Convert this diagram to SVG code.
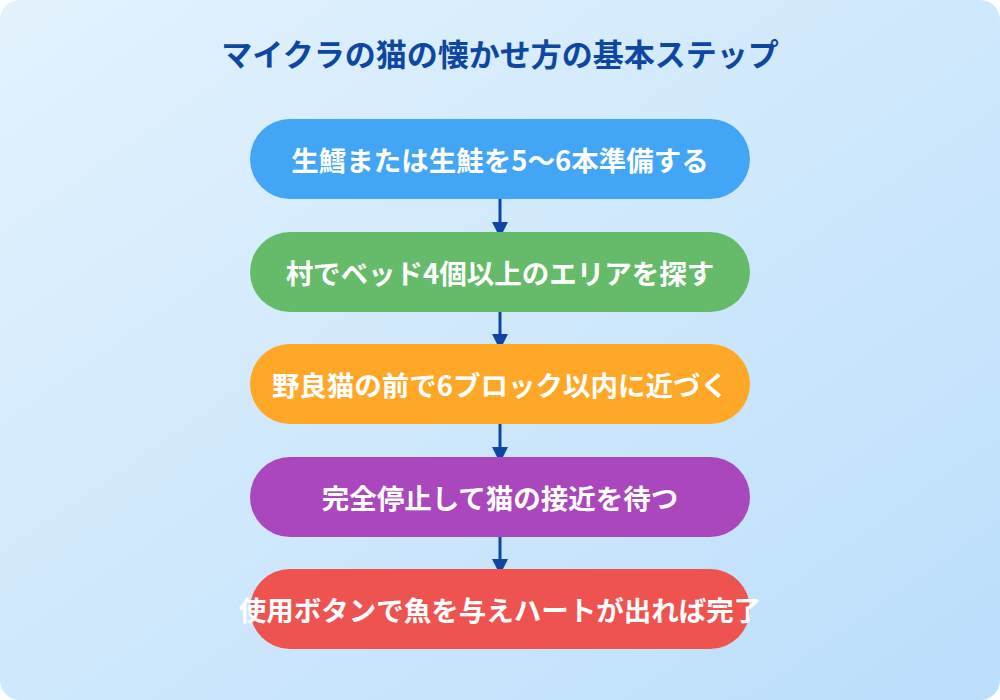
<svg xmlns="http://www.w3.org/2000/svg" width="1000" height="700" viewBox="0 0 1000 700">
<defs>
<linearGradient id="bg" x1="0" y1="0" x2="1" y2="1"><stop offset="0" stop-color="#e3f2fd"/><stop offset="1" stop-color="#bbdefb"/></linearGradient>
<marker id="ah" markerWidth="10" markerHeight="16" refX="10" refY="8" orient="auto" markerUnits="userSpaceOnUse"><path d="M0,0 L10,5 L10,11 L0,16 z" fill="#0d47a1"/></marker>
<style>
.t{font-family:"Noto Sans CJK JP","Noto Sans",sans-serif;font-weight:bold;fill:#fff;font-size:27.5px;text-anchor:middle;dominant-baseline:central}
.c{stroke:#0d47a1;stroke-width:3;fill:none;marker-end:url(#ah)}
</style>
</defs>
<rect x="0" y="0" width="1000" height="700" rx="20" fill="url(#bg)"/>
<text x="500" y="52" font-family="'Noto Sans CJK JP',sans-serif" font-weight="bold" font-size="31" fill="#0d47a1" text-anchor="middle" dominant-baseline="central">マイクラの猫の懐かせ方の基本ステップ</text>
<g id="connectors">
<line class="c" x1="500" y1="199" x2="500" y2="232"/>
<line class="c" x1="500" y1="312" x2="500" y2="344"/>
<line class="c" x1="500" y1="424" x2="500" y2="457"/>
<line class="c" x1="500" y1="537" x2="500" y2="569"/>
</g>
<g id="n1"><rect x="250" y="119" width="500" height="80" rx="40" fill="#42a5f5"/><text class="t" x="500" y="159">生鱈または生鮭を5～6本準備する</text></g>
<g id="n2"><rect x="250" y="232" width="500" height="80" rx="40" fill="#66bb6a"/><text class="t" x="500" y="272">村でベッド4個以上のエリアを探す</text></g>
<g id="n3"><rect x="250" y="344" width="500" height="80" rx="40" fill="#ffa726"/><text class="t" x="500" y="384">野良猫の前で6ブロック以内に近づく</text></g>
<g id="n4"><rect x="250" y="457" width="500" height="80" rx="40" fill="#ab47bc"/><text class="t" x="500" y="497">完全停止して猫の接近を待つ</text></g>
<g id="n5"><rect x="250" y="569" width="500" height="80" rx="40" fill="#ef5350"/><text class="t" x="500" y="609">使用ボタンで魚を与えハートが出れば完了</text></g>
</svg>
